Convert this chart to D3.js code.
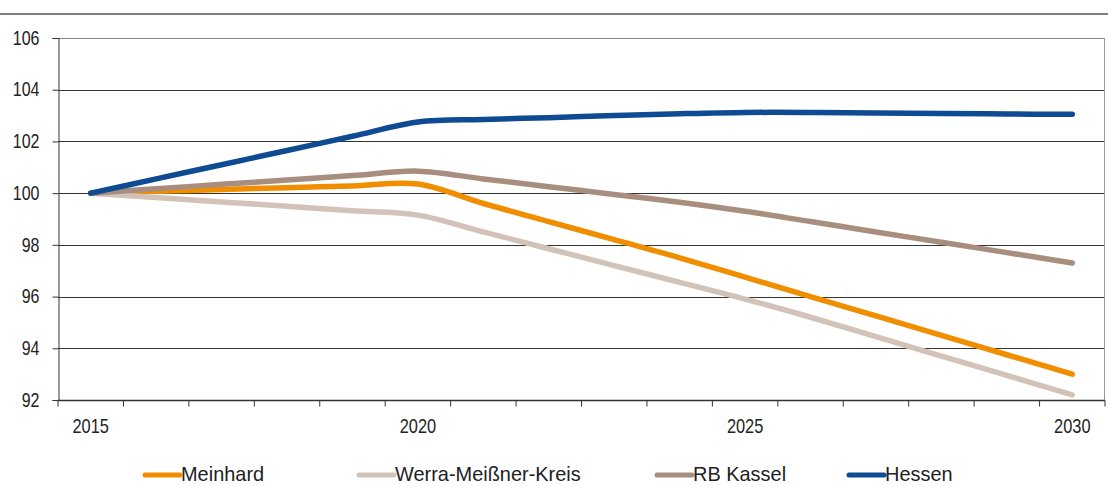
<!DOCTYPE html>
<html>
<head>
<meta charset="utf-8">
<script src="https://cdn.jsdelivr.net/npm/d3@7"></script>
<style>
  body { margin: 0; background: #fff; }
  text { font-family: "Liberation Sans", Arial, sans-serif; fill: #222; }
</style>
</head>
<body>
<div id="chart"></div>
<script>
var width = 1108,
    height = 486;

var margin = {top: 38, right: 3, bottom: 86, left: 58};

var years = d3.range(2015, 2031);
var yearLabels = [2015, 2020, 2025, 2030];
var yTicks = [92, 94, 96, 98, 100, 102, 104, 106];

var seriesNames = ["Meinhard", "Werra-Meißner-Kreis", "RB Kassel", "Hessen"];
var seriesColors = ["#f18e00", "#d3c2b7", "#a88e7f", "#0e4b92"];

var meinhard = [100, 100.07, 100.14, 100.21, 100.28, 100.35, 99.6, 98.9, 98.2, 97.5, 96.75, 96.0, 95.25, 94.5, 93.75, 93.0];
var werra    = [100, 99.83, 99.66, 99.49, 99.32, 99.15, 98.5, 97.85, 97.2, 96.55, 95.9, 95.2, 94.45, 93.7, 92.95, 92.2];
var kassel   = [100, 100.17, 100.34, 100.51, 100.68, 100.85, 100.55, 100.25, 99.95, 99.65, 99.3, 98.9, 98.5, 98.1, 97.7, 97.3];
var hessen   = [100, 100.55, 101.1, 101.65, 102.2, 102.75, 102.85, 102.92, 103.0, 103.07, 103.12, 103.12, 103.1, 103.08, 103.06, 103.05];

var seriesValues = [meinhard, werra, kassel, hessen];

// the original labels use a narrow face, so squeeze the text horizontally
var narrow = 0.82;

var svg = d3.select("#chart").append("svg")
    .attr("width", width)
    .attr("height", height);

// rule under the (cut off) title
svg.append("line")
    .attr("x1", 0).attr("x2", width)
    .attr("y1", 14).attr("y2", 14)
    .attr("stroke", "#555").attr("stroke-width", 1.5);

var x = d3.scaleBand()
    .domain(years)
    .range([margin.left, width - margin.right]);

var y = d3.scaleLinear()
    .domain([92, 106])
    .range([height - margin.bottom, margin.top]);

var g = svg.append("g");

// gridlines
g.selectAll("line.grid")
    .data(yTicks)
  .enter().append("line")
    .attr("class", "grid")
    .attr("x1", margin.left).attr("x2", width - margin.right)
    .attr("y1", function(d) { return Math.round(y(d)) + 0.5; })
    .attr("y2", function(d) { return Math.round(y(d)) + 0.5; })
    .attr("stroke", function(d) { return d == 106 ? "#888" : "#333"; })
    .attr("stroke-width", 1);

// right border
g.append("line")
    .attr("x1", width - margin.right - 0.5).attr("x2", width - margin.right - 0.5)
    .attr("y1", y(106)).attr("y2", y(92))
    .attr("stroke", "#999");

// y axis
var yAxis = d3.axisLeft(y)
    .tickValues(yTicks)
    .tickSize(6)
    .tickPadding(13);

var ya = svg.append("g")
    .attr("transform", "translate(" + (margin.left + 0.5) + ",0)")
    .call(yAxis);
ya.select(".domain").attr("stroke", "#333");
ya.selectAll(".tick line").attr("stroke", "#333");
ya.selectAll("text")
    .style("font-size", "19.5px")
    .attr("fill", "#222")
    .attr("x", -19 / narrow)
    .attr("transform", "scale(" + narrow + ",1)");

// x axis: ticks at category boundaries, labels every fifth year
var xa = svg.append("g")
    .attr("transform", "translate(0," + (Math.round(y(92)) + 0.5) + ")");
xa.append("line")
    .attr("x1", margin.left).attr("x2", width - margin.right)
    .attr("stroke", "#333").attr("stroke-width", 1.5);
xa.selectAll("line.tk")
    .data(years.concat([2031]))
  .enter().append("line")
    .attr("class", "tk")
    .attr("x1", function(d, i) { return i < years.length ? x(d) : x.range()[1]; })
    .attr("x2", function(d, i) { return i < years.length ? x(d) : x.range()[1]; })
    .attr("y1", 0).attr("y2", 6)
    .attr("stroke", "#333");
xa.selectAll("text")
    .data(yearLabels)
  .enter().append("text")
    .attr("transform", function(d) {
      return "translate(" + (x(d) + x.bandwidth() / 2) + ",32)scale(" + narrow + ",1)";
    })
    .attr("text-anchor", "middle")
    .style("font-size", "20px")
    .text(function(d) { return d; });

// lines
var line = d3.line()
    .x(function(d, i) { return x(years[i]) + x.bandwidth() / 2; })
    .y(function(d) { return y(d); })
    .curve(d3.curveCardinal.tension(0));

g.selectAll("path.series")
    .data(seriesValues)
  .enter().append("path")
    .attr("class", "series")
    .attr("d", line)
    .attr("fill", "none")
    .attr("stroke", function(d, i) { return seriesColors[i]; })
    .attr("stroke-width", 5.5)
    .attr("stroke-linecap", "round")
    .attr("stroke-linejoin", "round");

// legend
var legendX = [143, 357, 655, 847];
var legend = svg.append("g")
    .attr("transform", "translate(0,475)");
var items = legend.selectAll("g")
    .data(seriesNames)
  .enter().append("g")
    .attr("transform", function(d, i) { return "translate(" + legendX[i] + ",0)"; });
items.append("line")
    .attr("x1", 2).attr("x2", 37)
    .attr("stroke", function(d, i) { return seriesColors[i]; })
    .attr("stroke-width", 5)
    .attr("stroke-linecap", "round");
items.append("text")
    .attr("transform", "translate(38,6)scale(0.95,1)")
    .style("font-size", "21px")
    .text(function(d) { return d; });
</script>
</body>
</html>
